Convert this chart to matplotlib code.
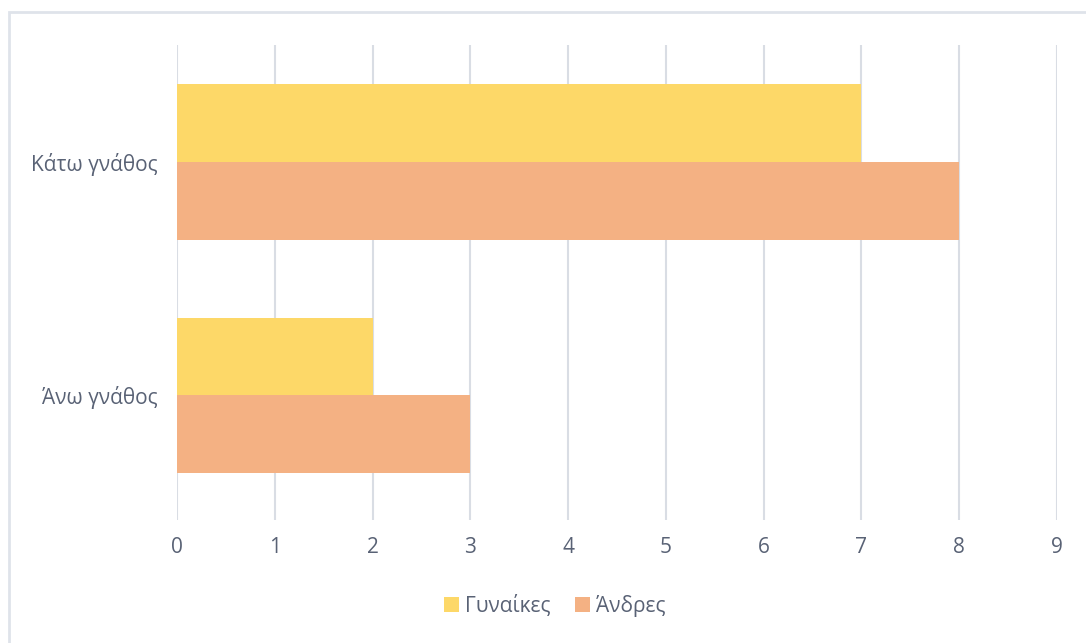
import matplotlib
matplotlib.use('Agg')
import matplotlib.pyplot as plt
from matplotlib.patches import Rectangle

categories = ["Άνω γνάθος", "Κάτω γνάθος"]
women = [2, 7]
men = [3, 8]
series_names = ["Γυναίκες", "Άνδρες"]

plt.rcParams['font.family'] = ['Open Sans', 'DejaVu Sans']
text_color = "#596275"
grid_color = "#d9dde4"

fig = plt.figure(figsize=(10.86, 6.43), dpi=100)
fig.patch.set_facecolor("white")
ax = fig.add_axes([0.163, 0.191, 0.8103, 0.739])

h = 0.333
pos = list(range(len(categories)))
ax.barh([p + h / 2 for p in pos], women, height=h, color="#fdd868", label=series_names[0], zorder=3)
ax.barh([p - h / 2 for p in pos], men, height=h, color="#f4b183", label=series_names[1], zorder=3)

ax.set_xlim(0, 9)
ax.set_ylim(-0.534, 1.5)
ax.set_xticks(range(0, 10))
ax.set_yticks(pos)
ax.set_yticklabels(categories)
ax.xaxis.grid(True, color=grid_color, linewidth=1.5, zorder=0)
for s in ax.spines.values():
    s.set_visible(False)
ax.tick_params(axis='both', length=0, colors=text_color, labelsize=15)
ax.tick_params(axis='x', pad=12)
ax.tick_params(axis='y', pad=14)

ax.legend(loc="center", bbox_to_anchor=(0.511, 0.058), bbox_transform=fig.transFigure,
          ncol=2, frameon=False, fontsize=15, labelcolor=text_color,
          handlelength=0.7, handleheight=0.7, handletextpad=0.3, columnspacing=1.2)

# outer chart frame
fig.patches.append(Rectangle((9 / 1086, -0.1), 1.2, 1 - 12 / 643 + 0.1, transform=fig.transFigure,
                             fill=False, edgecolor="#dfe3ea", linewidth=2))

fig.savefig("out.png", dpi=100)
